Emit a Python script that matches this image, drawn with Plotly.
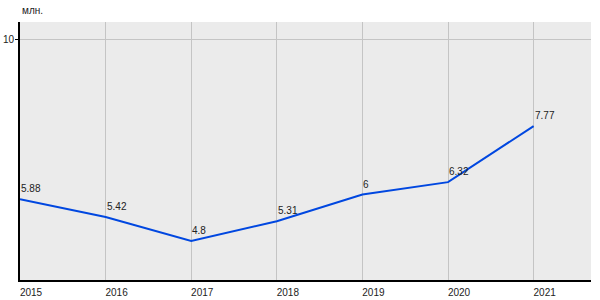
import plotly.graph_objects as go

years = [2015, 2016, 2017, 2018, 2019, 2020, 2021]
values = [5.88, 5.42, 4.8, 5.31, 6, 6.32, 7.77]
y_ticks = [10]
y_unit = "млн."

fig = go.Figure()
fig.add_trace(go.Scatter(
    x=years, y=values, mode="lines",
    line=dict(color="#0047e0", width=2),
    hoverinfo="skip", showlegend=False,
))
for xv, yv in zip(years, values):
    fig.add_annotation(
        x=xv, y=yv, text=f"{yv:g}", showarrow=False,
        xanchor="left", yanchor="bottom", xshift=-1, yshift=3,
        font=dict(family="Liberation Sans, Arial", size=10, color="#222"),
    )
fig.add_annotation(
    xref="paper", yref="paper", x=0, y=1, text=y_unit, showarrow=False,
    xanchor="left", yanchor="bottom", yshift=4,
    font=dict(family="Liberation Sans, Arial", size=10, color="#222"),
)

fig.update_layout(
    width=600, height=300,
    margin=dict(l=20, r=9, t=22, b=20),
    paper_bgcolor="white", plot_bgcolor="#ebebeb",
    font=dict(family="Liberation Sans, Arial", size=10, color="#222"),
    xaxis=dict(
        range=[2015, 2021.67], tickvals=years, ticktext=[str(y) for y in years],
        showgrid=True, gridcolor="#c4c4c4", gridwidth=1,
        showline=True, linecolor="black", linewidth=2,
        ticks="", zeroline=False, ticklabelshift=11, ticklabelstandoff=2,
        fixedrange=True, automargin=False,
    ),
    yaxis=dict(
        range=[3.79, 10.46], tickvals=y_ticks,
        showgrid=True, gridcolor="#c4c4c4", gridwidth=1,
        showline=True, linecolor="black", linewidth=2,
        ticks="outside", ticklen=3, tickcolor="black", zeroline=False,
        ticklabelstandoff=-1,
        fixedrange=True, automargin=False,
    ),
)
fig.write_html("out.html")
